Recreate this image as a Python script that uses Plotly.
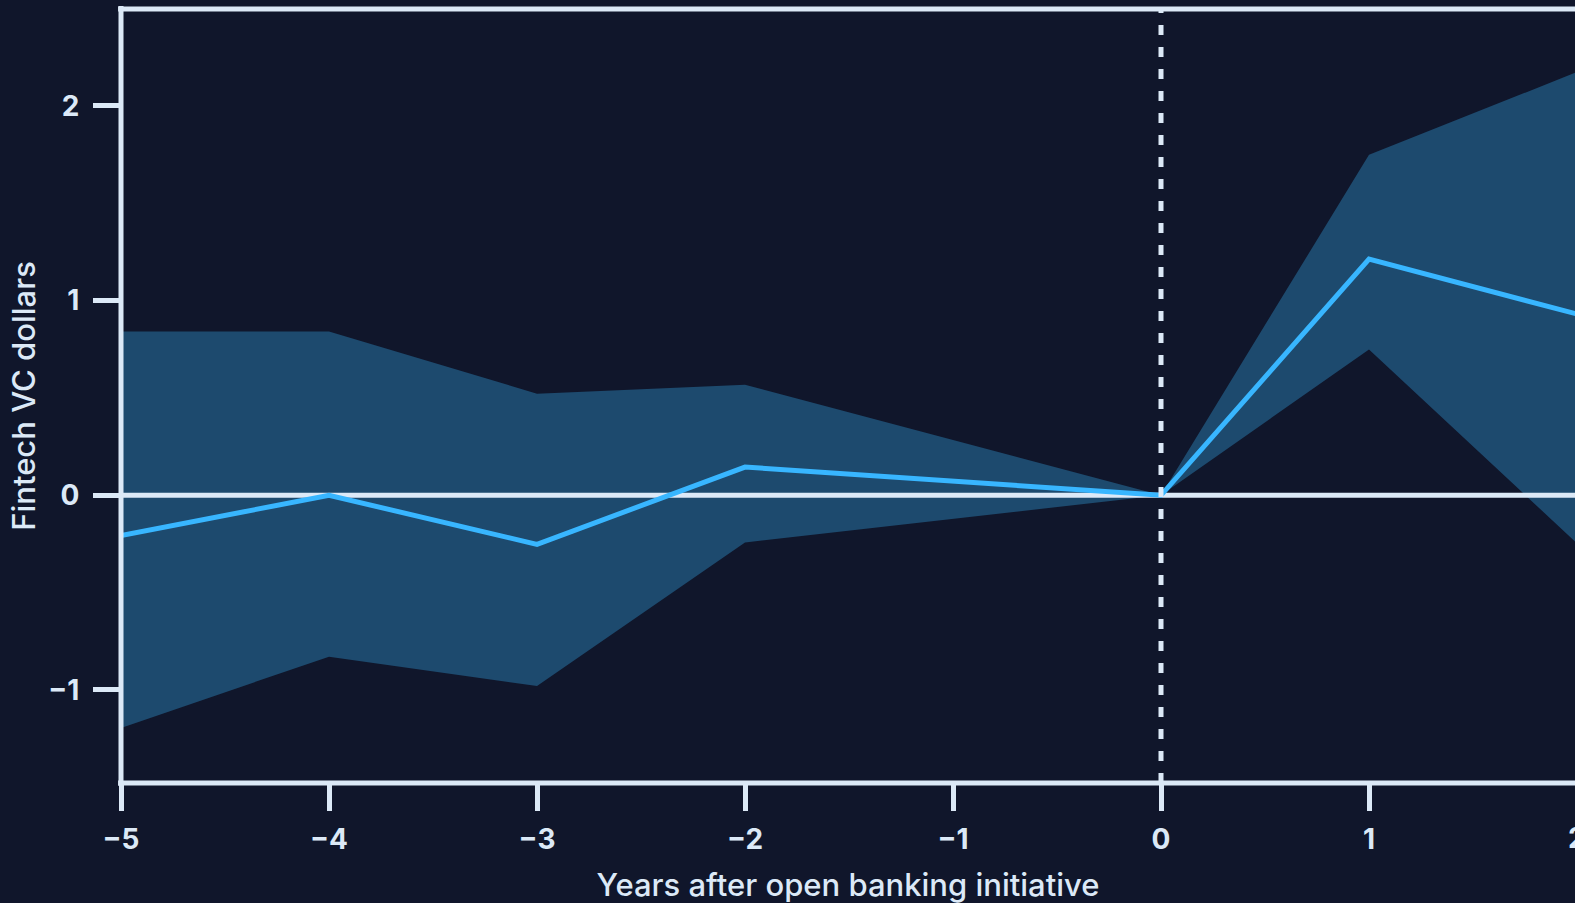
import plotly.graph_objects as go

# Event-study estimates: fintech VC dollars around open banking initiatives
years = [-5, -4, -3, -2, 0, 1, 2]
estimate = [-0.207, 0.0, -0.252, 0.145, 0.0, 1.213, 0.931]
ci_upper = [0.841, 0.841, 0.522, 0.568, 0.0, 1.749, 2.174]
ci_lower = [-1.195, -0.829, -0.980, -0.242, 0.0, 0.749, -0.247]

x_ticks = [-5, -4, -3, -2, -1, 0, 1, 2]
y_ticks = [-1, 0, 1, 2]

BG = "#10162b"
FILL = "#1d4a6e"
LINE = "#38b6ff"
AXIS = "#dce9f7"
FONT = "Inter"

W, H = 1575, 903
L, T, B, R = 121, 9, 120, 0
x_range = [-5, -5 + (W - L - R) / 208.0]
y_range = [-1.478, 2.498]

TICK_FONT = dict(family=FONT, size=28, color=AXIS, weight="bold")
TITLE_FONT = dict(family=FONT, size=31, color=AXIS, weight=500)


def minus(v):
    return str(v).replace("-", "\u2212")


fig = go.Figure()

# Confidence band
fig.add_trace(go.Scatter(x=years, y=ci_upper, mode="lines", line=dict(width=0),
                         hoverinfo="skip", showlegend=False))
fig.add_trace(go.Scatter(x=years, y=ci_lower, mode="lines", line=dict(width=0),
                         fill="tonexty", fillcolor=FILL, hoverinfo="skip", showlegend=False))

# Zero reference line
fig.add_trace(go.Scatter(x=[x_range[0], x_range[1]], y=[0, 0], mode="lines",
                         line=dict(color=AXIS, width=5), hoverinfo="skip", showlegend=False))

# Point estimates
fig.add_trace(go.Scatter(x=years, y=estimate, mode="lines",
                         line=dict(color=LINE, width=5), showlegend=False))

shapes = [
    # initiative year marker
    dict(type="line", xref="x", yref="paper", x0=0, x1=0, y0=0, y1=1,
         line=dict(color=AXIS, width=5, dash="10px,12px"), layer="above"),
    # frame: left, top, bottom
    dict(type="line", xref="paper", yref="paper", x0=0, x1=0, y0=-0.004, y1=1.004,
         line=dict(color=AXIS, width=5), layer="above"),
    dict(type="line", xref="paper", yref="paper", x0=-0.002, x1=1.01, y0=1, y1=1,
         line=dict(color=AXIS, width=5), layer="above"),
    dict(type="line", xref="paper", yref="paper", x0=-0.002, x1=1.01, y0=0, y1=0,
         line=dict(color=AXIS, width=5), layer="above"),
]

# Tick label for the last year, which sits just past the plotted range
x_span = x_range[1] - x_range[0]
annotations = [
    dict(text="2", xref="paper", yref="paper",
         x=(2 - x_range[0]) / x_span, y=0, yshift=-55, showarrow=False,
         font=TICK_FONT, xanchor="center", yanchor="middle"),
]

fig.update_layout(
    width=W, height=H,
    margin=dict(l=L, r=R, t=T, b=B),
    paper_bgcolor=BG, plot_bgcolor=BG,
    shapes=shapes, annotations=annotations,
    font=dict(family=FONT, color=AXIS),
    xaxis=dict(
        range=x_range, tickvals=x_ticks, ticktext=[minus(v) for v in x_ticks],
        showgrid=False, zeroline=False, showline=False,
        ticks="outside", ticklen=27, tickwidth=5, tickcolor=AXIS,
        ticklabelstandoff=4,
        tickfont=TICK_FONT,
        title=dict(text="Years after open banking initiative", standoff=20,
                   font=TITLE_FONT),
    ),
    yaxis=dict(
        range=y_range, tickvals=y_ticks, ticktext=[minus(v) for v in y_ticks],
        showgrid=False, zeroline=False, showline=False,
        ticks="outside", ticklen=27, tickwidth=5, tickcolor=AXIS,
        ticklabelstandoff=8,
        tickfont=TICK_FONT,
        title=dict(text="Fintech VC dollars", standoff=3, font=TITLE_FONT),
    ),
)

fig.write_html("out.html")
